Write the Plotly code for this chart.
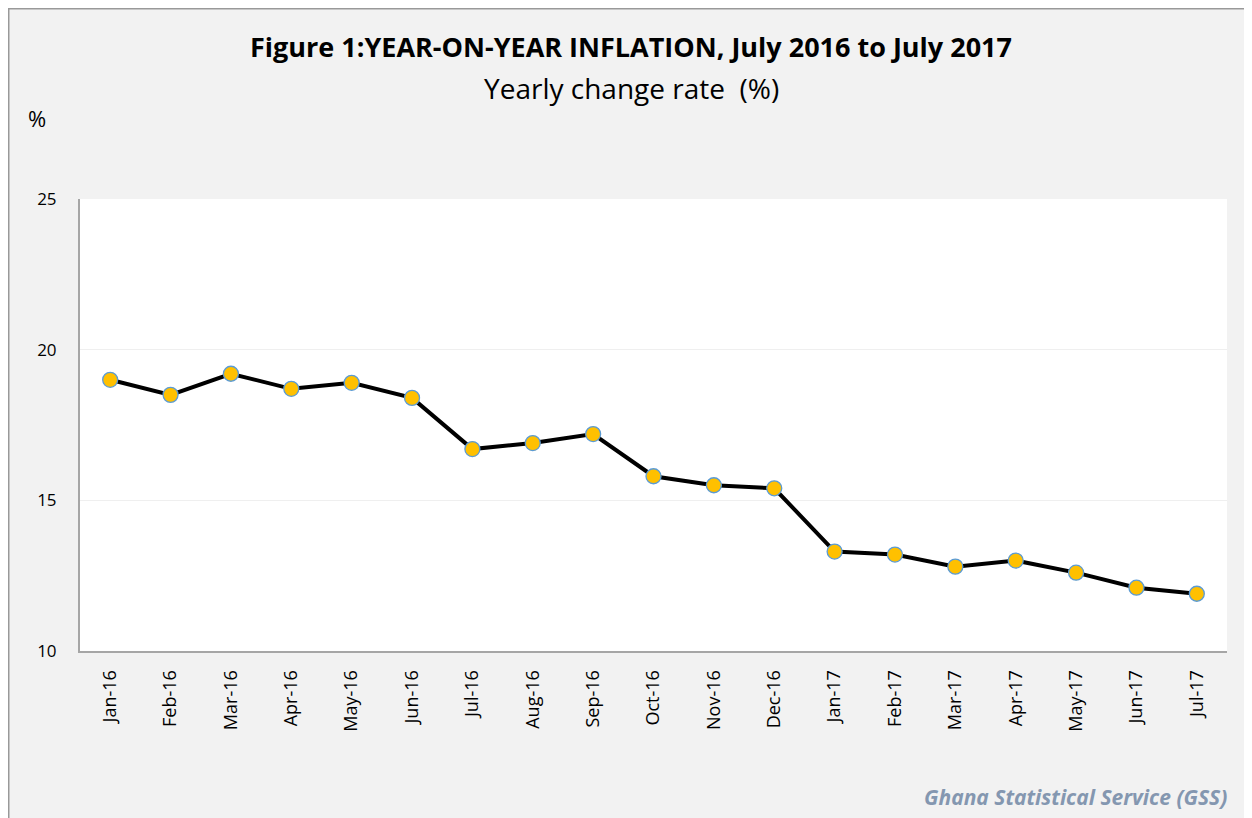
import plotly.graph_objects as go

months = ["Jan-16", "Feb-16", "Mar-16", "Apr-16", "May-16", "Jun-16", "Jul-16", "Aug-16", "Sep-16",
          "Oct-16", "Nov-16", "Dec-16", "Jan-17", "Feb-17", "Mar-17", "Apr-17", "May-17", "Jun-17", "Jul-17"]
inflation = [19.0, 18.5, 19.2, 18.7, 18.9, 18.4, 16.7, 16.9, 17.2,
             15.8, 15.5, 15.4, 13.3, 13.2, 12.8, 13.0, 12.6, 12.1, 11.9]
y_ticks = [10, 15, 20, 25]

# page is offset by the browser's default 8px body margin
OFF = 8
W, H = 1252 - OFF, 818 - OFF
L, R, T, B = 80 - OFF, 1227 - OFF, 199 - OFF, 651 - OFF
pw, ph = R - L, B - T

def px(x):  # page x -> paper
    return (x - OFF - L) / pw

def py(y):  # page y -> paper
    return (B - (y - OFF)) / ph

FONT = "Open Sans"

fig = go.Figure()
fig.add_trace(go.Scatter(
    x=months, y=inflation, mode="lines+markers",
    line=dict(color="black", width=4),
    marker=dict(size=15, color="#ffc000", line=dict(color="#5b9bd5", width=1.3)),
    hoverinfo="x+y", showlegend=False,
))

fig.update_layout(
    width=W, height=H,
    margin=dict(l=L, r=W - R, t=T, b=H - B, autoexpand=False),
    paper_bgcolor="#f2f2f2",
    plot_bgcolor="white",
    font=dict(family=FONT, color="black", size=16),
    xaxis=dict(
        type="category", range=[-0.5, len(months) - 0.5],
        tickangle=-90, tickfont=dict(size=18), showgrid=False,
        showline=True, linecolor="#a6a6a6", linewidth=2, ticks="",
        ticklabelstandoff=10, fixedrange=True,
    ),
    yaxis=dict(
        range=[10, 25], tickvals=y_ticks, tickfont=dict(size=17),
        showgrid=True, gridcolor="#efefef", gridwidth=1,
        showline=True, linecolor="#a6a6a6", linewidth=2, ticks="",
        zeroline=False, ticklabelstandoff=18, fixedrange=True,
    ),
    shapes=[
        dict(type="rect", xref="paper", yref="paper", layer="below",
             x0=px(8.5), x1=px(1270), y0=py(8.5), y1=py(840),
             fillcolor="rgba(0,0,0,0)", line=dict(color="#999999", width=2)),
    ],
    annotations=[
        dict(text="<b>Figure 1:YEAR-ON-YEAR INFLATION, July 2016 to July 2017</b>",
             xref="paper", yref="paper", x=px(631), y=py(47), showarrow=False,
             xanchor="center", yanchor="middle", font=dict(size=27, family=FONT)),
        dict(text="Yearly change rate  (%)",
             xref="paper", yref="paper", x=px(631), y=py(88), showarrow=False,
             xanchor="center", yanchor="middle", font=dict(size=28, family=FONT)),
        dict(text="%", xref="paper", yref="paper", x=px(37), y=py(118), showarrow=False,
             xanchor="center", yanchor="middle", font=dict(size=22, family=FONT)),
        dict(text="<b><i>Ghana Statistical Service (GSS)</i></b>",
             xref="paper", yref="paper", x=px(1229), y=py(797), showarrow=False,
             xanchor="right", yanchor="middle", font=dict(size=21, family=FONT, color="#8497b0")),
    ],
)

fig.write_html("out.html")
